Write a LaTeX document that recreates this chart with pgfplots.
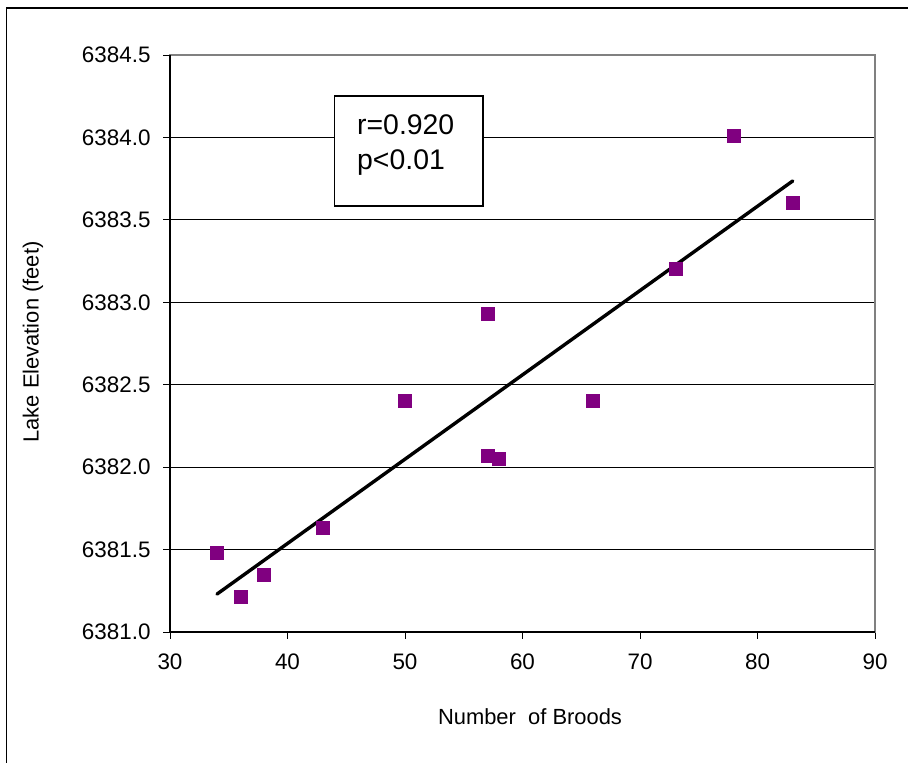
\documentclass[border=0pt]{standalone}
\usepackage{fontspec}
\setmainfont{Liberation Sans}
\usepackage{pgfplots}
\pgfplotsset{compat=1.18}
\definecolor{mpurple}{HTML}{800080}
\begin{document}
\begin{tikzpicture}
\useasboundingbox (0bp,0bp) rectangle (908bp,763bp);
\draw[line width=1.5bp] (6.5bp,0bp) -- (6.5bp,755bp) -- (908bp,755bp);
\begin{axis}[
  at={(170bp,131bp)}, anchor=south west,
  scale only axis, width=705bp, height=577bp,
  xmin=30, xmax=90, ymin=6381, ymax=6384.5,
  xtick={30,40,50,60,70,80,90},
  ytick={6381,6381.5,6382,6382.5,6383,6383.5,6384,6384.5},
  xtick pos=left, ytick pos=left,
  tick align=outside,
  major tick length=7bp,
  tick style={black, line width=0.8bp},
  axis line style={draw=gray, line width=1.2bp},
  ymajorgrids, grid style={black, line width=1bp},
  ticklabel style={font=\fontsize{22.5}{26}\selectfont},
  /pgf/number format/assume math mode=true,
  yticklabel={\pgfmathprintnumber[fixed, fixed zerofill, precision=1, 1000 sep={}]{\tick}},
  xticklabel style={yshift=-11bp},
  yticklabel style={xshift=-9bp},
]
\addplot[black, line width=3.4bp, line cap=round] coordinates {(34,6381.23) (83,6383.736)};
\addplot[only marks, mark=square*, mark size=6.5bp, color=mpurple] coordinates {
(34,6381.479) (36,6381.212) (38,6381.346) (43,6381.631) (50,6382.401)
(57,6382.929) (57,6382.068) (58,6382.049) (66,6382.401) (73,6383.202)
(78,6384.009) (83,6383.602)};
\end{axis}
\draw[black, line width=1.5bp] (170bp,708bp) -- (170bp,131bp) -- (875bp,131bp);
\draw[line width=1.3bp, fill=white] (334.5bp,557bp) rectangle (483bp,667bp);
\node[anchor=west, align=left, inner sep=0pt, font=\fontsize{28.5}{35}\selectfont] at (357bp,618bp) {r=0.920\\p<0.01};
\node[font=\fontsize{22}{26}\selectfont] at (530bp,46bp) {Number\ \ of Broods};
\node[rotate=90, font=\fontsize{22}{26}\selectfont] at (33bp,421bp) {Lake Elevation (feet)};
\end{tikzpicture}
\end{document}
